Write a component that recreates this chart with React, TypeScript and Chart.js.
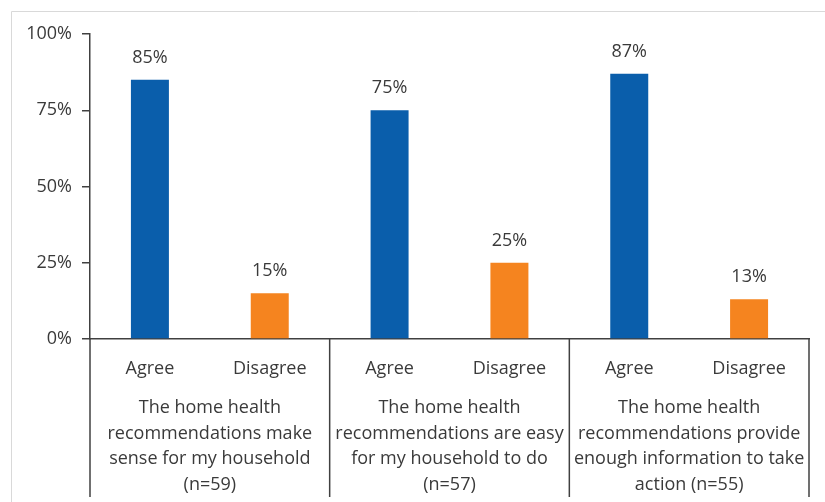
import React, { useEffect, useRef } from "react";
import { Chart, registerables } from "chart.js";

Chart.register(...registerables);

const responses = ["Agree", "Disagree"];
const agreeValues = [85, 75, 87];
const disagreeValues = [15, 25, 13];
const groupLabels = [
  ["The home health", "recommendations make", "sense for my household", "(n=59)"],
  ["The home health", "recommendations are easy", "for my household to do", "(n=57)"],
  ["The home health", "recommendations provide", "enough information to take", "action (n=55)"],
];
const yTicks = [0, 25, 50, 75, 100];

const BLUE = "#0a5eab";
const ORANGE = "#f5841f";
const TEXT = "#3a3a3a";
const AXIS = "#404040";
const FONT = "'Open Sans', sans-serif";

export default function App() {
  const ref = useRef<HTMLCanvasElement | null>(null);

  useEffect(() => {
    if (!ref.current) return;
    const labels: string[] = [];
    const values: number[] = [];
    const colors: string[] = [];
    agreeValues.forEach((a, i) => {
      labels.push(responses[0], responses[1]);
      values.push(a, disagreeValues[i]);
      colors.push(BLUE, ORANGE);
    });

    const decor = {
      id: "decor",
      beforeDraw(chart: any) {
        const ctx = chart.ctx;
        ctx.save();
        ctx.strokeStyle = "#d9d9d9";
        ctx.lineWidth = 1;
        ctx.beginPath();
        ctx.moveTo(11.5, 502);
        ctx.lineTo(11.5, 11.5);
        ctx.lineTo(825, 11.5);
        ctx.stroke();
        ctx.restore();
      },
      afterDraw(chart: any) {
        const ctx = chart.ctx;
        const x = chart.scales.x;
        const area = chart.chartArea;
        const half = (x.getPixelForValue(1) - x.getPixelForValue(0)) / 2;
        ctx.save();
        // separators
        ctx.strokeStyle = AXIS;
        ctx.lineWidth = 1.5;
        for (let g = 0; g <= groupLabels.length; g++) {
          const px = g < groupLabels.length ? x.getPixelForValue(g * 2) - half : x.getPixelForValue(g * 2 - 1) + half;
          ctx.beginPath();
          ctx.moveTo(px, area.bottom);
          ctx.lineTo(px, 497);
          ctx.stroke();
        }
        // group labels
        ctx.fillStyle = TEXT;
        ctx.font = `18px ${FONT}`;
        ctx.textAlign = "center";
        ctx.textBaseline = "middle";
        groupLabels.forEach((lines, g) => {
          const cx = (x.getPixelForValue(g * 2) + x.getPixelForValue(g * 2 + 1)) / 2;
          lines.forEach((ln, i) => {
            ctx.fillText(ln, cx, 408 + i * 25.5);
          });
        });
        // data labels
        const meta = chart.getDatasetMeta(0);
        meta.data.forEach((bar: any, i: number) => {
          ctx.fillText(values[i] + "%", bar.x, bar.y - 22);
        });
        ctx.restore();
      },
    };

    const chart = new Chart(ref.current, {
      type: "bar",
      data: {
        labels,
        datasets: [
          {
            data: values,
            backgroundColor: colors,
            categoryPercentage: 1,
            barPercentage: 0.317,
          },
        ],
      },
      options: {
        animation: false,
        responsive: false,
        maintainAspectRatio: false,
        layout: { padding: { left: 0, right: 16, top: 34, bottom: 0 } },
        plugins: { legend: { display: false }, tooltip: { enabled: false } },
        scales: {
          x: {
            grid: { display: false, drawTicks: false },
            border: { display: true, color: AXIS, width: 1.5 },
            ticks: { color: TEXT, font: { family: FONT, size: 18 }, padding: 19, maxRotation: 0, autoSkip: false },
            afterFit: (s: any) => {
              s.height = 502 - 339;
            },
          },
          y: {
            min: 0,
            max: 100,
            afterBuildTicks: (s: any) => {
              s.ticks = yTicks.map((v) => ({ value: v }));
            },
            grid: { drawOnChartArea: false, drawTicks: true, tickLength: 8, color: AXIS, lineWidth: 1.5 },
            border: { display: true, color: AXIS, width: 1.5 },
            ticks: {
              color: TEXT,
              font: { family: FONT, size: 18 },
              padding: 10,
              callback: (v: any) => v + "%",
            },
            afterFit: (s: any) => {
              s.width = 90;
            },
          },
        },
      },
      plugins: [decor],
    });
    return () => chart.destroy();
  }, []);

  return (
    <div style={{ position: "absolute", left: 0, top: 0, width: 825, height: 502, background: "#fff" }}>
      <canvas ref={ref} width={825} height={502} style={{ width: 825, height: 502, display: "block" }} />
    </div>
  );
}
